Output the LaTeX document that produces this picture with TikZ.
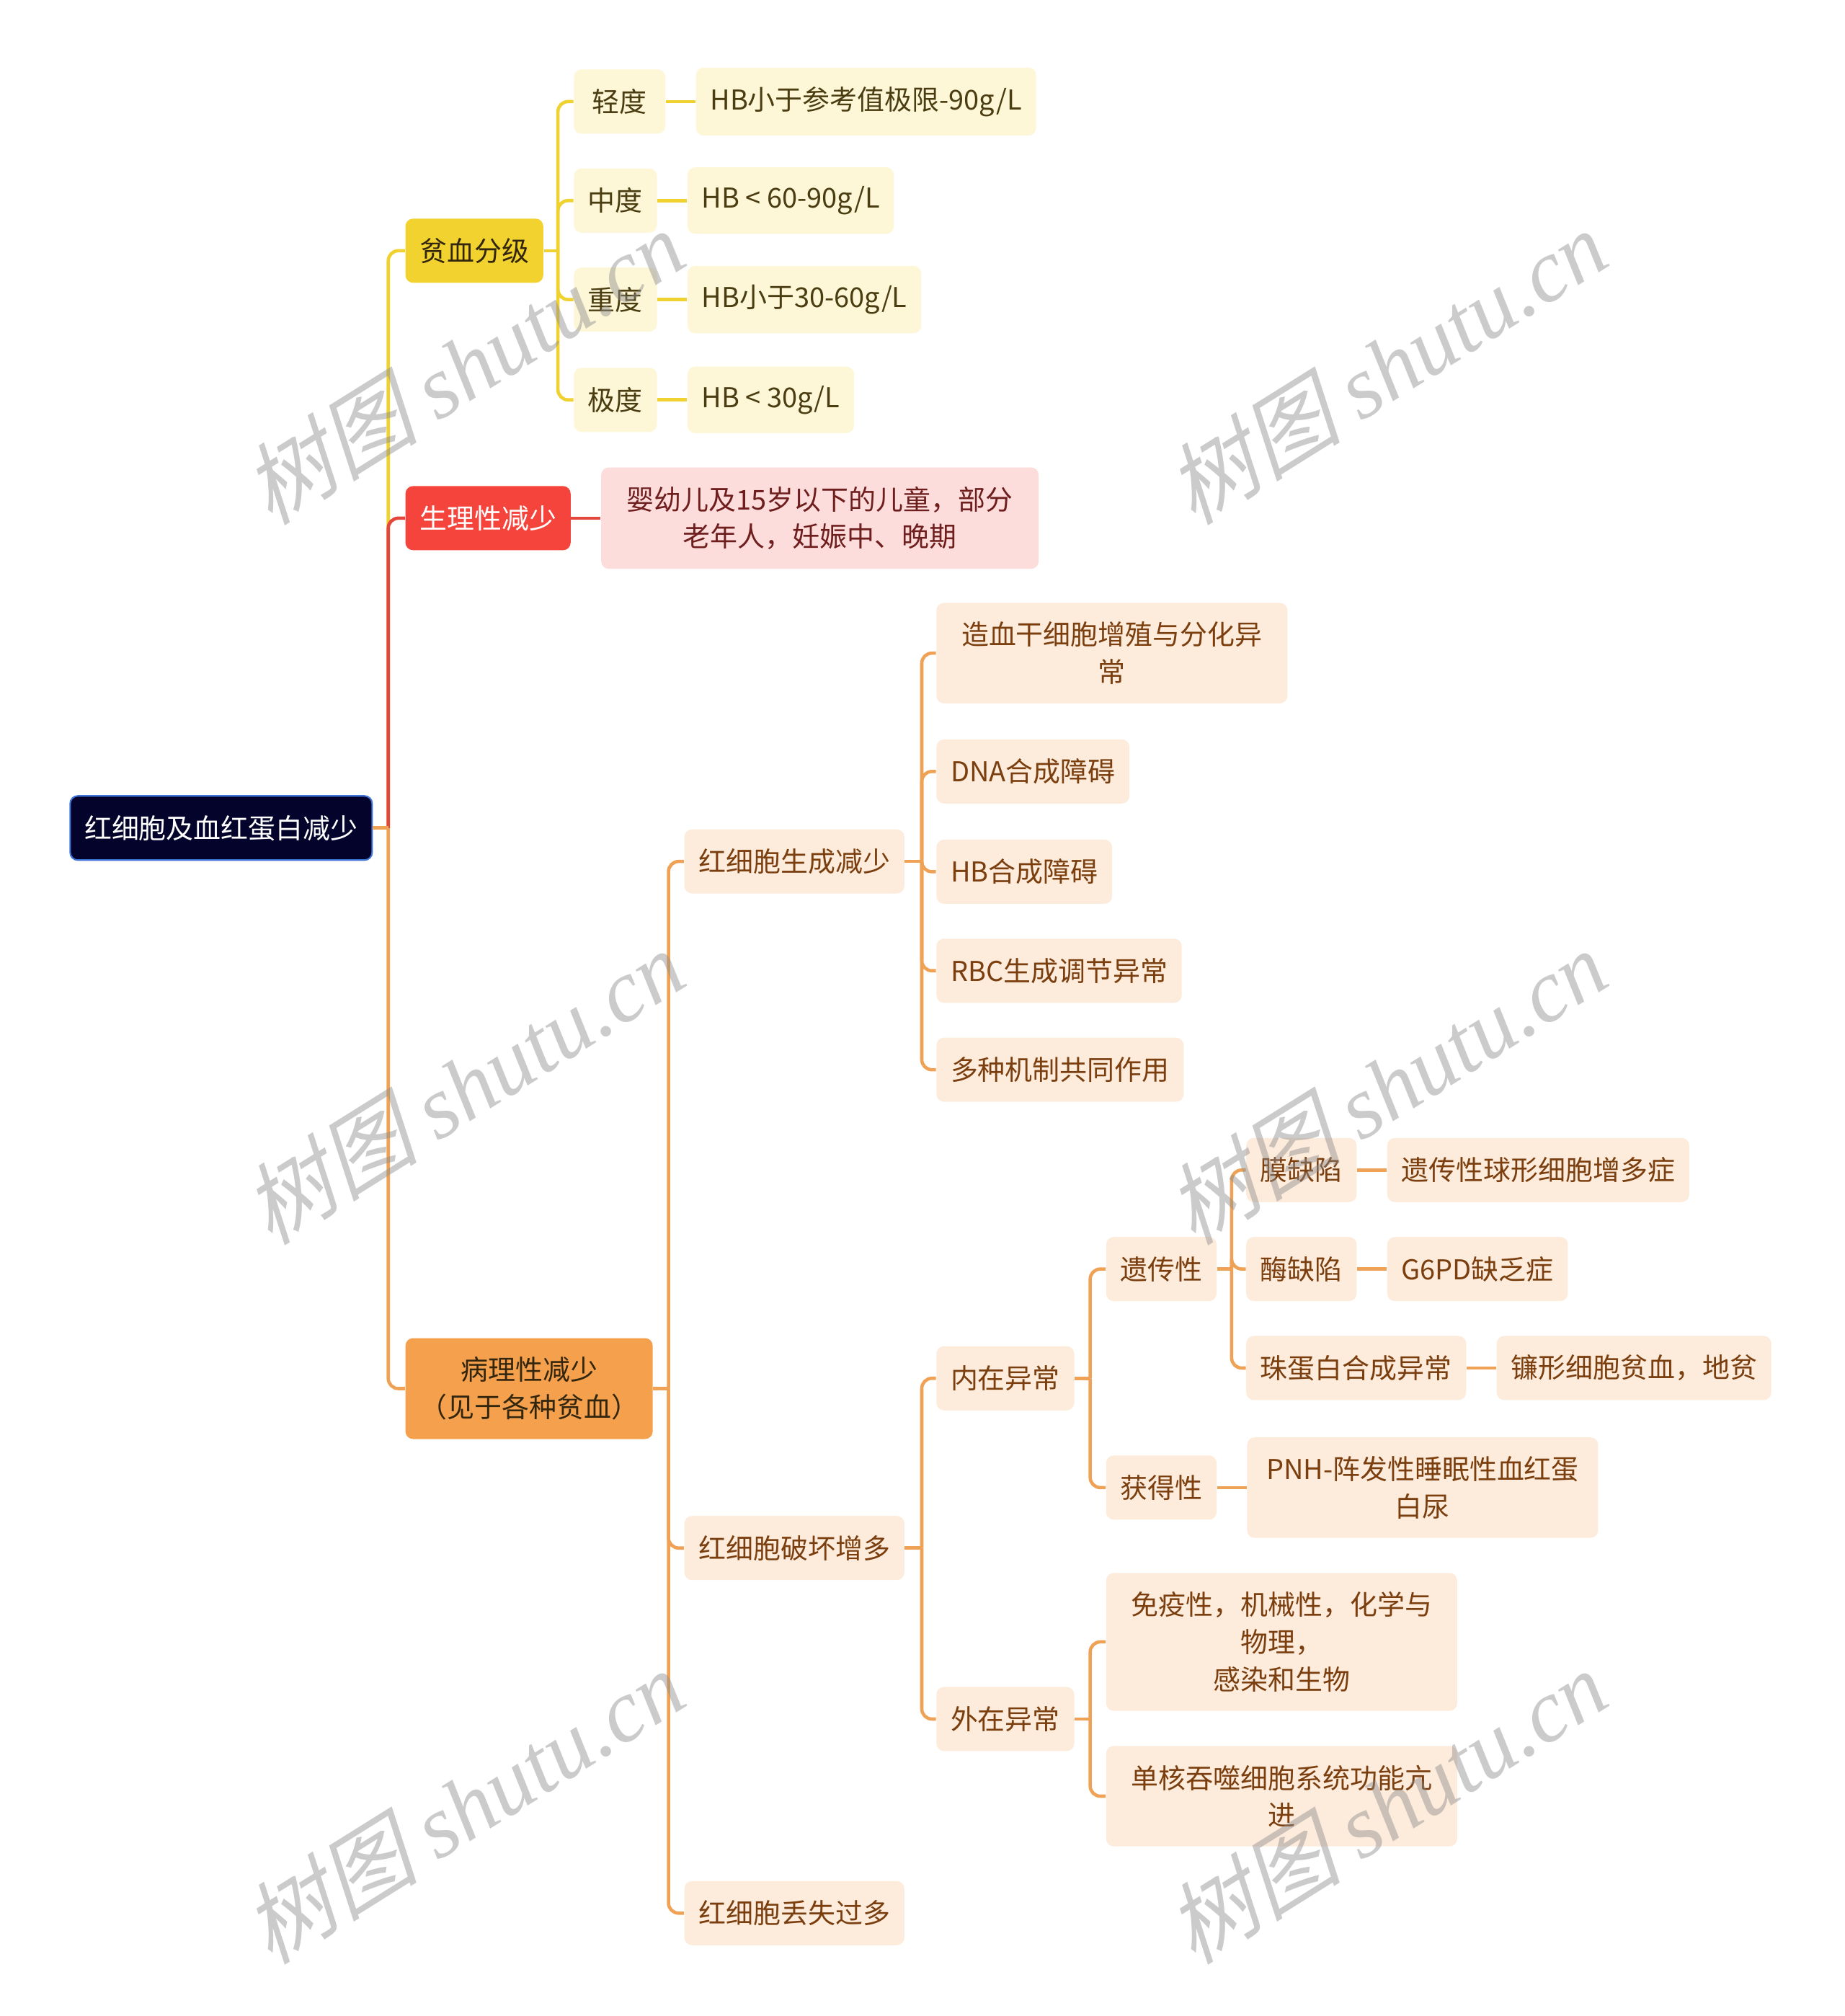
\documentclass[tikz,border=0pt]{standalone}
\usepackage{fontspec}
\setmainfont{Noto Sans CJK SC}
\newfontfamily\wmcjk[FakeSlant=0.25]{Noto Sans CJK SC}
\newfontfamily\wmlat{Liberation Serif}
\usepackage{xcolor}
\usetikzlibrary{positioning}

\definecolor{rootnavy}{HTML}{03032B}
\definecolor{rootblue}{HTML}{3F74D6}
\definecolor{ylwfill}{HTML}{F2D22E}
\definecolor{ylwline}{HTML}{EFD12F}
\definecolor{ylwpale}{HTML}{FDF7D7}
\definecolor{ylwtext}{HTML}{4B3D12}
\definecolor{redfill}{HTML}{F5443C}
\definecolor{redline}{HTML}{E4463C}
\definecolor{redpale}{HTML}{FDDCDC}
\definecolor{redtext}{HTML}{6F1E1E}
\definecolor{orgfill}{HTML}{F5A04D}
\definecolor{orgline}{HTML}{EFA255}
\definecolor{orgpale}{HTML}{FDEBDB}
\definecolor{orgtext}{HTML}{7B3F0F}
\definecolor{darktext}{HTML}{33260E}

\begin{document}
\begin{tikzpicture}[
    x=0.01784cm, y=-0.01784cm,
    node distance=0.41cm,
    box/.style={rectangle, rounded corners=3pt, anchor=west, align=center, inner xsep=5.6pt, inner ysep=7.5pt, minimum height=0.89cm, font=\fontsize{10.8}{14.7}\selectfont},
    rootbox/.style={box, fill=rootnavy, draw=rootblue, line width=0.6pt, text=white},
    ylwmain/.style={box, fill=ylwfill, text=darktext},
    ylwsub/.style={box, fill=ylwpale, text=ylwtext},
    redmain/.style={box, fill=redfill, text=white},
    redsub/.style={box, fill=redpale, text=redtext, minimum width=6.07cm},
    orgmain/.style={box, fill=orgfill, text=darktext},
    orgsub/.style={box, fill=orgpale, text=orgtext},
    wide/.style={minimum width=4.87cm},
    ylink/.style={draw=ylwline, line width=1.3pt, rounded corners=4pt},
    rlink/.style={draw=redline, line width=1.3pt, rounded corners=4pt},
    olink/.style={draw=orgline, line width=1.3pt, rounded corners=4pt},
    wmtext/.style={text=black!45, opacity=0.45, rotate=32, font=\fontsize{35}{35}\selectfont}
]
    \useasboundingbox (0,0) rectangle (1435,1568);

    % root and first level
    \node[rootbox] (root) at (54,644) {红细胞及血红蛋白减少};
    \node[ylwmain] (grade) at (315,195) {贫血分级};
    \node[redmain] (physio) at (315,403) {生理性减少};
    \node[orgmain] (patho) at (315,1080) {病理性减少\\（见于各种贫血）};

    % grading of anaemia
    \node[ylwsub, minimum width=1.27cm] (mild) at (446,79) {轻度};
    \node[ylwsub, right=of mild] (mildv) {HB小于参考值极限-90g/L};
    \node[ylwsub] (moder) at (446,156) {中度};
    \node[ylwsub, right=of moder] (moderv) {HB < 60-90g/L};
    \node[ylwsub] (severe) at (446,233) {重度};
    \node[ylwsub, right=of severe] (severev) {HB小于30-60g/L};
    \node[ylwsub] (extreme) at (446,311) {极度};
    \node[ylwsub, right=of extreme] (extremev) {HB < 30g/L};

    % physiological
    \node[redsub, right=of physio] (physiov) {婴幼儿及15岁以下的儿童，部分\\老年人，妊娠中、晚期};

    % pathological
    \node[orgsub] (lessmade) at (532,670) {红细胞生成减少};
    \node[orgsub] (destroy) at (532,1204) {红细胞破坏增多};
    \node[orgsub] (loss) at (532,1488) {红细胞丢失过多};

    \node[orgsub, wide] (stem) at (728,508) {造血干细胞增殖与分化异\\常};
    \node[orgsub] (dna) at (728,600) {DNA合成障碍};
    \node[orgsub] (hbsyn) at (728,678) {HB合成障碍};
    \node[orgsub] (rbcreg) at (728,755) {RBC生成调节异常};
    \node[orgsub] (multi) at (728,832) {多种机制共同作用};

    \node[orgsub] (inner) at (728,1072) {内在异常};
    \node[orgsub] (outer) at (728,1337) {外在异常};

    \node[orgsub] (hered) at (860,987) {遗传性};
    \node[orgsub] (acq) at (860,1157) {获得性};
    \node[orgsub, wide, right=of acq] (pnh) {PNH-阵发性睡眠性血红蛋\\白尿};

    \node[orgsub] (membr) at (969,910) {膜缺陷};
    \node[orgsub, right=of membr] (membrv) {遗传性球形细胞增多症};
    \node[orgsub] (enzyme) at (969,987) {酶缺陷};
    \node[orgsub, right=of enzyme] (enzymev) {G6PD缺乏症};
    \node[orgsub] (globin) at (969,1064) {珠蛋白合成异常};
    \node[orgsub, right=of globin] (globinv) {镰形细胞贫血，地贫};

    \node[orgsub, wide] (immune) at (860,1277) {免疫性，机械性，化学与\\物理，\\感染和生物};
    \node[orgsub, wide] (mono) at (860,1397) {单核吞噬细胞系统功能亢\\进};

    % trunk points
    \coordinate (t-root) at (302,644);
    \coordinate (t-grade) at (434,195);
    \coordinate (t-patho) at (520,1080);
    \coordinate (t-less) at (717,670);
    \coordinate (t-destroy) at (717,1204);
    \coordinate (t-inner) at (848,1072);
    \coordinate (t-hered) at (958,987);
    \coordinate (t-outer) at (848,1337);

    % connectors
    \draw[ylink] (t-root) |- (grade.west);
    \draw[rlink] (t-root) |- (physio.west);
    \draw[olink] (t-root) |- (patho.west);
    \draw[olink] (root.east) -- (t-root);

    \draw[ylink] (grade.east) -- (t-grade);
    \foreach \c in {mild, moder, severe, extreme}
        \draw[ylink] (t-grade) |- (\c.west);
    \draw[ylink] (mild) -- (mildv);
    \draw[ylink] (moder) -- (moderv);
    \draw[ylink] (severe) -- (severev);
    \draw[ylink] (extreme) -- (extremev);

    \draw[rlink] (physio) -- (physiov);

    \draw[olink] (patho.east) -- (t-patho);
    \foreach \c in {lessmade, destroy, loss}
        \draw[olink] (t-patho) |- (\c.west);
    \draw[olink] (lessmade.east) -- (t-less);
    \foreach \c in {stem, dna, hbsyn, rbcreg, multi}
        \draw[olink] (t-less) |- (\c.west);
    \draw[olink] (destroy.east) -- (t-destroy);
    \foreach \c in {inner, outer}
        \draw[olink] (t-destroy) |- (\c.west);
    \draw[olink] (inner.east) -- (t-inner);
    \foreach \c in {hered, acq}
        \draw[olink] (t-inner) |- (\c.west);
    \draw[olink] (hered.east) -- (t-hered);
    \foreach \c in {membr, enzyme, globin}
        \draw[olink] (t-hered) |- (\c.west);
    \draw[olink] (membr) -- (membrv);
    \draw[olink] (enzyme) -- (enzymev);
    \draw[olink] (globin) -- (globinv);
    \draw[olink] (acq) -- (pnh);
    \draw[olink] (outer.east) -- (t-outer);
    \foreach \c in {immune, mono}
        \draw[olink] (t-outer) |- (\c.west);

    % watermarks
    \foreach \wx/\wy [count=\i] in {360/285, 1078/285, 360/845, 1078/845, 360/1405, 1078/1405}
        \node[wmtext] (wm\i) at (\wx,\wy) {{\wmcjk 树图} {\wmlat\itshape shutu.cn}};
\end{tikzpicture}
\end{document}
